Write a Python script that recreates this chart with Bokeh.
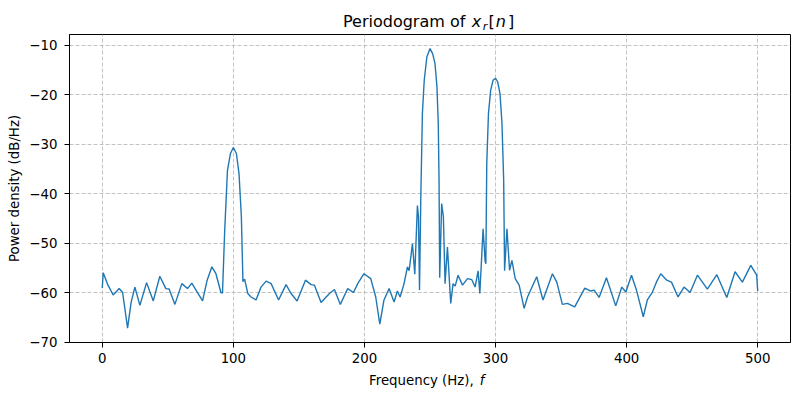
from bokeh.plotting import figure
from bokeh.models import FixedTicker, Range1d, Div
from bokeh.layouts import column
from bokeh.embed import file_html
from bokeh.resources import INLINE

freq = [0, 0.7, 4, 8.3, 12.9, 15.5, 19.3, 22, 24.9, 28.7, 33.8, 38.9, 43.9, 48.5, 51, 55.4,
        60.7, 65.0, 68.3, 76.5, 80, 83.6, 86.7, 90.5, 91.7, 93.4, 95.5, 97.8, 100, 102.3,
        104.3, 106.1, 107.3, 108.6, 111.0, 113.5, 117.3, 121.1, 125.0, 128.8, 134.5, 140.2,
        144.0, 148.6, 155.0, 159.3, 161.8, 166.9, 173.3, 177.1, 181.6, 187.2, 191.6, 194.9,
        199.6, 204.8, 208.6, 211.7, 214.9, 218.8, 222.6, 225.1, 227.2, 230.2, 232.8, 234.1,
        236.6, 238.4, 240.4, 241.2, 242.0, 243.0, 244.2, 245.6, 247.6, 250.0, 252.0, 253.8,
        255.3, 256.3, 256.9, 257.4, 258.9, 260.2, 261.5, 263.3, 265.8, 267.6, 269.2, 271.4,
        274.8, 278.6, 281.9, 284.4, 286.7, 288.0, 290.5, 292.1, 292.6, 293.3, 294.6, 296.3,
        298.1, 300.0, 301.6, 303.4, 304.9, 306.2, 306.9, 308.7, 310.7, 312.5, 315.0, 318.0,
        321.8, 324.4, 326.8, 331.4, 336.2, 343.4, 346.7, 351.0, 354.8, 360.4, 368.1, 372.6,
        375.2, 379.0, 384.6, 391.7, 396.3, 399.4, 403.7, 407.5, 412.7, 415.8, 419.7, 422.7,
        426.0, 430.6, 434.2, 439.2, 443.8, 448.4, 454.0, 461.6, 468.8, 476.4, 482.7, 488.3,
        494.7, 499.2, 500]
power_db = [-59.1, -56.0, -58.3, -60.5, -59.2, -60.0, -67.2, -62.0, -58.9, -62.6, -58.0, -61.7,
            -56.7, -59.2, -59.3, -62.4, -58.2, -59.2, -58.1, -61.7, -57.5, -54.8, -56.2, -60.0,
            -60.1, -47.4, -35.3, -31.9, -30.7, -31.9, -35.9, -44.7, -57.8, -57.3, -60.2, -60.9,
            -61.5, -58.9, -57.7, -58.2, -61.5, -58.4, -60.2, -61.7, -57.5, -58.4, -58.5, -62.0,
            -60.2, -59.4, -62.4, -59.2, -60.0, -58.2, -56.2, -57.2, -60.9, -66.4, -61.5, -59.2,
            -61.9, -59.7, -60.9, -58.2, -54.8, -55.6, -50.1, -56.3, -42.4, -44.7, -59.5, -40.6,
            -23.8, -17.1, -12.4, -10.7, -11.7, -13.7, -18.4, -25.8, -37.3, -57.0, -42.0, -44.7,
            -58.2, -50.8, -62.2, -58.2, -58.7, -56.5, -58.5, -57.2, -57.4, -58.9, -55.6, -60.2,
            -47.1, -53.8, -54.2, -33.9, -23.8, -19.1, -17.1, -16.7, -17.4, -19.8, -25.8, -37.3,
            -55.6, -47.1, -55.5, -53.5, -57.2, -58.5, -63.2, -60.9, -59.5, -56.8, -61.5, -56.2,
            -57.9, -62.4, -62.2, -62.9, -59.1, -59.7, -59.5, -61.0, -57.0, -62.7, -58.9, -59.9,
            -56.5, -59.5, -64.9, -61.5, -59.9, -57.9, -56.2, -57.5, -57.9, -60.9, -58.9, -60.0,
            -56.5, -59.3, -56.4, -61.0, -55.8, -57.9, -54.5, -56.5, -59.7]

x_ticks = [0, 100, 200, 300, 400, 500]
y_ticks = [-70, -60, -50, -40, -30, -20, -10]
y_tick_labels = ["\u221270", "\u221260", "\u221250", "\u221240", "\u221230", "\u221220", "\u221210"]

FONT = "DejaVu Sans"

p = figure(width=800, height=342, x_range=Range1d(-25, 525), y_range=Range1d(-70.1, -7.85),
           output_backend="svg", toolbar_location=None, title=None,
           min_border_left=69, min_border_right=10, min_border_top=4, min_border_bottom=30)
p.background_fill_color = "white"
p.border_fill_color = "white"
p.outline_line_color = "black"
p.outline_line_width = 1

p.line(freq, power_db, line_color="#1f77b4", line_width=1.4)

for ax in (p.xaxis[0], p.yaxis[0]):
    ax.axis_line_color = "black"
    ax.major_tick_in = 0
    ax.major_tick_out = 5
    ax.minor_tick_line_color = None
    ax.major_label_text_font = FONT
    ax.major_label_text_font_size = "13.33px"
    ax.major_label_text_color = "black"
p.xaxis[0].ticker = FixedTicker(ticks=x_ticks)
p.yaxis[0].ticker = FixedTicker(ticks=y_ticks)
p.xaxis[0].major_label_standoff = 5
p.yaxis[0].major_label_standoff = 7
p.yaxis[0].major_label_overrides = {t: s for t, s in zip(y_ticks, y_tick_labels)}
p.yaxis[0].axis_label = "Power density (dB/Hz)"
p.yaxis[0].axis_label_text_font = FONT
p.yaxis[0].axis_label_text_font_size = "13.33px"
p.yaxis[0].axis_label_text_font_style = "normal"
p.yaxis[0].axis_label_text_color = "black"
p.yaxis[0].axis_label_standoff = 4

p.xgrid[0].ticker = FixedTicker(ticks=x_ticks)
p.ygrid[0].ticker = FixedTicker(ticks=y_ticks)
for g in (p.xgrid[0], p.ygrid[0]):
    g.grid_line_color = "#bcbcbc"
    g.grid_line_dash = "4 2"
    g.grid_line_width = 0.9

title_html = (
    '<div style="position:relative;width:800px;height:30px;font-family:\'DejaVu Sans\';'
    'color:#000;">'
    '<span style="position:absolute;left:343px;top:12px;font-size:16px;line-height:normal;'
    'white-space:nowrap;">Periodogram of'
    '<span style="font-style:italic;margin-left:6.5px;">x</span>'
    '<span style="font-style:italic;font-size:11.2px;position:relative;top:3.3px;'
    'margin-left:1.5px;">r</span>'
    '<span style="margin-left:1px;">[</span>'
    '<span style="font-style:italic;margin-left:1.2px;">n</span>'
    '<span style="margin-left:2px;">]</span>'
    '</span></div>'
)
xlabel_html = (
    '<div style="position:relative;width:800px;height:28px;font-family:\'DejaVu Sans\';'
    'color:#000;">'
    '<span style="position:absolute;left:369px;top:1.3px;font-size:13.33px;line-height:normal;'
    'white-space:nowrap;">Frequency (Hz),'
    '<span style="font-style:italic;margin-left:6px;">f</span></span></div>'
)

title_div = Div(text=title_html, width=800, height=30, margin=(0, 0, 0, 0))
xlabel_div = Div(text=xlabel_html, width=800, height=28, margin=(0, 0, 0, 0))

layout = column(title_div, p, xlabel_div, spacing=0)

open("out.html", "w").write(file_html(layout, INLINE))
